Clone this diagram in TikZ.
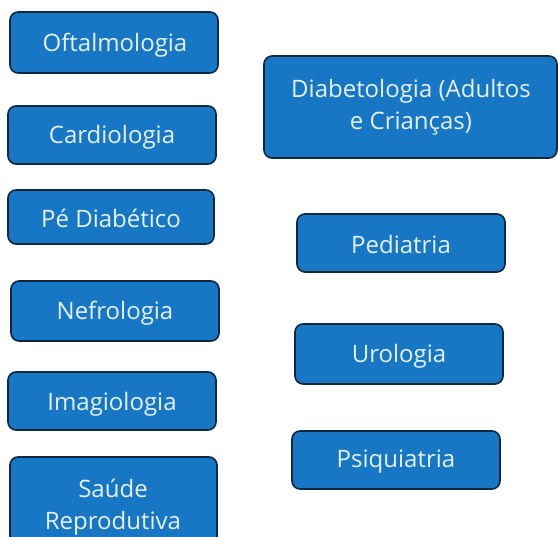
\documentclass[tikz,border=0pt]{standalone}
\usepackage{fontspec}
\setmainfont{Open Sans}
\definecolor{boxfill}{HTML}{1777C4}
\definecolor{boxline}{HTML}{0E2841}
\definecolor{boxtext}{HTML}{E4F1FC}
\begin{document}
\begin{tikzpicture}[x=1pt,y=-1pt,
  sbox/.style={draw=boxline, line width=1.6pt, fill=boxfill, rounded corners=8pt},
  slabel/.style={text=boxtext, font=\fontsize{24}{32}\selectfont, align=center}]
\useasboundingbox (0,0) rectangle (558,537);
\clip (0,0) rectangle (558,537);
\fill[white] (0,0) rectangle (558,537);
% left column
\draw[sbox] (10,12) rectangle (218,73);
\node[slabel] (oft) at (115,45) {Oftalmologia};
\draw[sbox] (8,106) rectangle (216,164);
\node[slabel] (car) at (112,137) {Cardiologia};
\draw[sbox] (8,190) rectangle (214,244);
\node[slabel] (pe) at (111,218) {Pé Diabético};
\draw[sbox] (11,281) rectangle (219,341);
\node[slabel] (nef) at (115,313) {Nefrologia};
\draw[sbox] (8,372) rectangle (216,430);
\node[slabel] (ima) at (112,404) {Imagiologia};
\draw[sbox] (10,457) rectangle (217,550);
\node[slabel] (sau) at (113,507) {Saúde\\Reprodutiva};
% right column
\draw[sbox] (264,56) rectangle (557,158);
\node[slabel] (dia) at (411,107) {Diabetologia (Adultos\\e Crianças)};
\draw[sbox] (297,214) rectangle (505,272);
\node[slabel] (ped) at (401,245) {Pediatria};
\draw[sbox] (295,324) rectangle (503,384);
\node[slabel] (uro) at (399,356) {Urologia};
\draw[sbox] (292,431) rectangle (500,489);
\node[slabel] (psi) at (396,462) {Psiquiatria};
\end{tikzpicture}
\end{document}
